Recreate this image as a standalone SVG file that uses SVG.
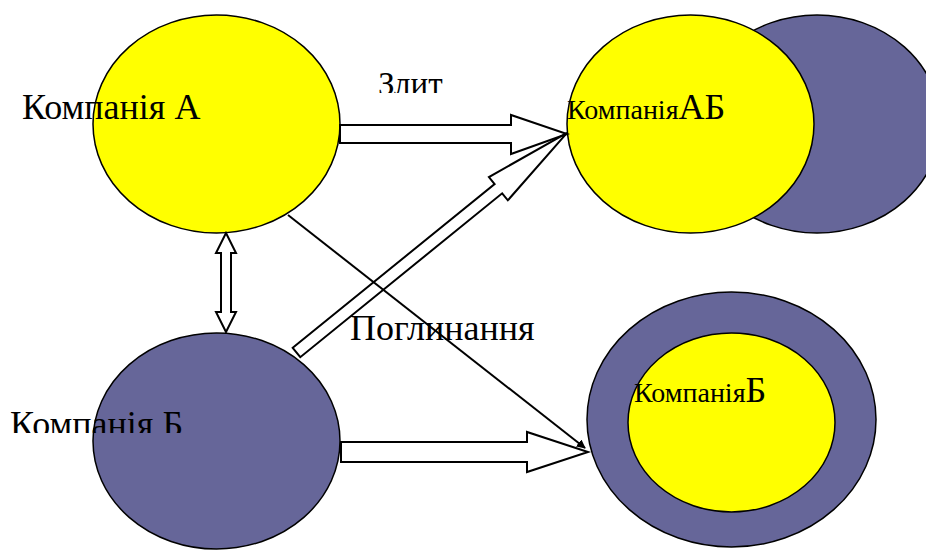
<svg xmlns="http://www.w3.org/2000/svg" width="926" height="550" viewBox="0 0 926 550">
<style>
.y{fill:#FFFF00;stroke:#000;stroke-width:1.5}
.n{fill:#666699;stroke:#000;stroke-width:1.5}
.blk{fill:#fff;stroke:#000;stroke-width:2;stroke-linejoin:miter}
text{font-family:'Liberation Serif',serif;fill:#000}
</style>
<defs>
<marker id="ah" viewBox="0 0 10 10" refX="9" refY="5" markerWidth="9" markerHeight="9" markerUnits="userSpaceOnUse" orient="auto"><path d="M0,0 L10,5 L0,10 z" fill="#000"/></marker>
<clipPath id="c1"><rect x="360" y="50" width="120" height="43"/></clipPath>
<clipPath id="c2"><rect x="0" y="390" width="200" height="43"/></clipPath>
</defs>
<rect width="926" height="550" fill="#fff"/>
<g id="companyA"><ellipse class="y" cx="216.5" cy="124" rx="123.5" ry="109"/></g>
<g id="companyB"><ellipse class="n" cx="216.5" cy="441" rx="123.5" ry="108"/></g>
<g id="companyAB">
<ellipse class="n" cx="817" cy="124" rx="123.5" ry="109"/>
<ellipse class="y" cx="690.5" cy="124" rx="123.5" ry="109"/>
</g>
<g id="companyB2">
<ellipse class="n" cx="731.5" cy="419.5" rx="144.5" ry="127.5"/>
<ellipse class="y" cx="731.5" cy="422.5" rx="103.5" ry="89.5"/>
</g>
<g id="connectors">
<polygon class="blk" points="340,125 511,125 511,115 567,134 511,154 511,143 340,143"/>
<polygon class="blk" points="341,442 527,442 527,432 588,452 527,472 527,462 341,462"/>
<polygon class="blk" transform="translate(296.5,352.5) rotate(-39.06)" points="0,-6 260,-6 260,-15 348.4,0 260,15 260,6 0,6"/>
<polygon class="blk" stroke-width="1.5" points="226,233 236,253 231,253 231,312 236,312 226,332 216,312 221,312 221,253 216,253"/>
<line x1="288" y1="215" x2="585" y2="448" stroke="#000" stroke-width="2" marker-end="url(#ah)"/>
</g>
<g id="labels" font-family="Liberation Serif, serif">
<text x="22" y="119" font-size="36">Компанія А</text>
<text x="378" y="95" font-size="33" clip-path="url(#c1)">Злит</text>
<text x="350" y="340" font-size="36">Поглинання</text>
<text x="10" y="436" font-size="36" clip-path="url(#c2)">Компанія Б</text>
<text x="567" y="119" font-size="28">Компанія<tspan font-size="36">АБ</tspan></text>
<text x="634" y="402" font-size="28">Компанія<tspan font-size="36">Б</tspan></text>
</g>
</svg>
